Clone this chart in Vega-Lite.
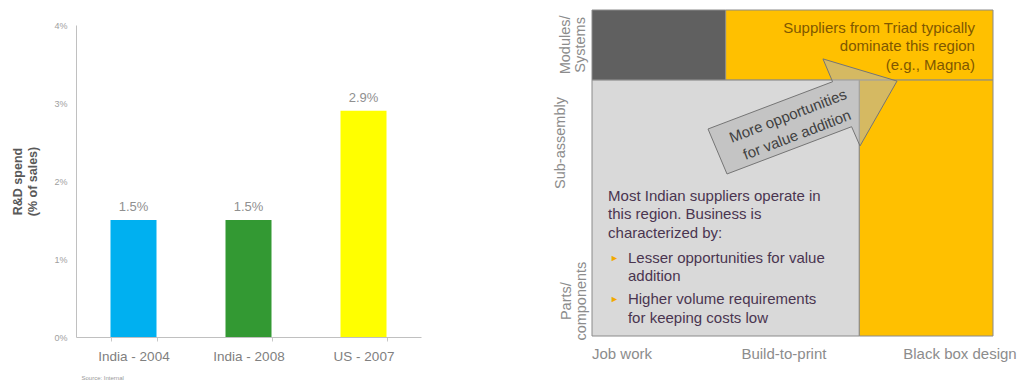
{
  "$schema": "https://vega.github.io/schema/vega-lite/v6.json",
  "background": "white",
  "padding": {"left": 11, "top": 9, "right": 0, "bottom": 0},
  "config": {"view": {"stroke": null}, "font": "Liberation Sans"},
  "spacing": 171,
  "bounds": "flush",
  "resolve": {"scale": {"color": "independent"}},
  "hconcat": [
    {
      "width": 345,
      "height": 327,
      "data": {"values": [
        {"cat": "India - 2004", "v": 0.015},
        {"cat": "India - 2008", "v": 0.015},
        {"cat": "US - 2007", "v": 0.029}
      ]},
      "encoding": {
        "x": {"field": "cat", "type": "nominal", "sort": null,
          "scale": {"paddingInner": 0.6, "paddingOuter": 0.3},
          "axis": {"labelAngle": 0, "tickBand": "extent", "tickSize": 4, "tickColor": "#c8c8c8", "domainColor": "#c0c0c0",
            "labelFontSize": 13.5, "labelColor": "#808080", "labelPadding": 8,
            "title": "Source: Internal", "titleFontSize": 6, "titleFontWeight": "normal", "titleColor": "#999999",
            "titleAnchor": "start", "titleAlign": "left", "titlePadding": 12, "titleX": 5}},
        "y": {"field": "v", "type": "quantitative",
          "scale": {"domain": [0, 0.04], "range": [327, 15], "nice": false},
          "axis": {"values": [0, 0.01, 0.02, 0.03, 0.04], "format": ".0%", "labelFontSize": 9, "labelColor": "#a0a0a0",
            "ticks": false, "grid": false, "domainColor": "#c0c0c0", "labelPadding": 9,
            "title": ["R&D spend", "(% of sales)"], "titleFontSize": 12.5, "titleFontWeight": "bold", "titleColor": "#595959", "titlePadding": 14, "titleLineHeight": 15}}
      },
      "layer": [
        {"mark": {"type": "bar"},
         "encoding": {"color": {"field": "cat", "type": "nominal", "sort": null,
           "scale": {"range": ["#00B0F0", "#339933", "#FFFF00"]}, "legend": null}}},
        {"mark": {"type": "text", "baseline": "bottom", "dy": -6, "fontSize": 13, "color": "#909090"},
         "encoding": {"text": {"field": "v", "type": "quantitative", "format": ".1%"}}}
      ]
    },
    {
      "width": 401,
      "height": 326,
      "layer": [
        {
          "data": {"values": [
            {"zone": "dark", "x0": 0, "x1": 1, "y0": 78.5, "y1": 100},
            {"zone": "triad", "x0": 1, "x1": 3, "y0": 78.5, "y1": 100},
            {"zone": "indian", "x0": 0, "x1": 2, "y0": 0, "y1": 78.5},
            {"zone": "triad", "x0": 2, "x1": 3, "y0": 0, "y1": 78.5}
          ]},
          "mark": {"type": "rect", "stroke": "#8a8a8a", "strokeWidth": 1},
          "encoding": {
            "x": {"field": "x0", "type": "quantitative", "scale": {"domain": [0, 3], "nice": false, "zero": false}, "axis": null},
            "x2": {"field": "x1"},
            "y": {"field": "y0", "type": "quantitative", "scale": {"domain": [0, 100], "nice": false, "zero": false}, "axis": null},
            "y2": {"field": "y1"},
            "color": {"field": "zone", "type": "nominal", "scale": {"domain": ["dark", "triad", "indian"], "range": ["#606060", "#FFC000", "#D9D9D9"]}, "legend": null}
          }
        },
        {
          "data": {"values": [
            {"ord": 1, "px": 0.868, "py": 63.5},
            {"ord": 2, "px": 1.800, "py": 78.0},
            {"ord": 3, "px": 1.728, "py": 85.0},
            {"ord": 4, "px": 2.282, "py": 78.2},
            {"ord": 5, "px": 2.005, "py": 58.3},
            {"ord": 6, "px": 1.942, "py": 64.2},
            {"ord": 7, "px": 1.010, "py": 49.7}
          ]},
          "mark": {"type": "line", "interpolate": "linear-closed", "fill": "#b2b2b2", "fillOpacity": 0.55, "stroke": "#757575", "strokeWidth": 1},
          "encoding": {
            "x": {"field": "px", "type": "quantitative"},
            "y": {"field": "py", "type": "quantitative"},
            "order": {"field": "ord", "type": "quantitative"}
          }
        },
        {
          "data": {"values": [
            {"t": "More opportunities", "x": 1.466, "y": 67.5},
            {"t": "for value addition", "x": 1.534, "y": 61.7}
          ]},
          "mark": {"type": "text", "angle": -21, "align": "center", "baseline": "middle", "fontSize": 15, "color": "#404040"},
          "encoding": {"x": {"field": "x", "type": "quantitative"}, "y": {"field": "y", "type": "quantitative"}, "text": {"field": "t"}}
        },
        {
          "data": {"values": [
            {"t": "Suppliers from Triad typically", "x": 2.865, "y": 94.5},
            {"t": "dominate this region", "x": 2.865, "y": 89.0},
            {"t": "(e.g., Magna)", "x": 2.865, "y": 83.1}
          ]},
          "mark": {"type": "text", "align": "right", "baseline": "middle", "fontSize": 15, "color": "#7f5800"},
          "encoding": {"x": {"field": "x", "type": "quantitative"}, "y": {"field": "y", "type": "quantitative"}, "text": {"field": "t"}}
        },
        {
          "data": {"values": [
            {"t": "Most Indian suppliers operate in", "x": 0.12, "y": 42.9},
            {"t": "this region. Business is", "x": 0.12, "y": 37.4},
            {"t": "characterized by:", "x": 0.12, "y": 31.6},
            {"t": "Lesser opportunities for value", "x": 0.269, "y": 23.9},
            {"t": "addition", "x": 0.269, "y": 18.4},
            {"t": "Higher volume requirements", "x": 0.269, "y": 11.3},
            {"t": "for keeping costs  low", "x": 0.269, "y": 5.5}
          ]},
          "mark": {"type": "text", "align": "left", "baseline": "middle", "fontSize": 15, "color": "#4a3550"},
          "encoding": {"x": {"field": "x", "type": "quantitative"}, "y": {"field": "y", "type": "quantitative"}, "text": {"field": "t"}}
        },
        {
          "data": {"values": [
            {"t": "►", "x": 0.135, "y": 23.9},
            {"t": "►", "x": 0.135, "y": 11.3}
          ]},
          "mark": {"type": "text", "align": "left", "baseline": "middle", "fontSize": 9, "color": "#F2A900"},
          "encoding": {"x": {"field": "x", "type": "quantitative"}, "y": {"field": "y", "type": "quantitative"}, "text": {"field": "t"}}
        },
        {
          "data": {"values": [
            {"t": ["Modules/", "Systems"], "x": -0.195, "y": 89.3},
            {"t": "Sub-assembly", "x": -0.23, "y": 59.2},
            {"t": ["Parts/", "components"], "x": -0.19, "y": 10.7}
          ]},
          "mark": {"type": "text", "angle": 270, "align": "center", "baseline": "middle", "fontSize": 14.5, "lineHeight": 15, "color": "#8c8c8c"},
          "encoding": {"x": {"field": "x", "type": "quantitative"}, "y": {"field": "y", "type": "quantitative"}, "text": {"field": "t"}}
        },
        {
          "data": {"values": [
            {"t": "Job work", "x": 0.0, "y": -5.5}
          ]},
          "mark": {"type": "text", "align": "left", "baseline": "middle", "fontSize": 15, "color": "#8c8c8c"},
          "encoding": {"x": {"field": "x", "type": "quantitative"}, "y": {"field": "y", "type": "quantitative"}, "text": {"field": "t"}}
        },
        {
          "data": {"values": [
            {"t": "Build-to-print", "x": 1.436, "y": -5.5},
            {"t": "Black box design", "x": 2.753, "y": -5.5}
          ]},
          "mark": {"type": "text", "align": "center", "baseline": "middle", "fontSize": 15, "color": "#8c8c8c"},
          "encoding": {"x": {"field": "x", "type": "quantitative"}, "y": {"field": "y", "type": "quantitative"}, "text": {"field": "t"}}
        }
      ]
    }
  ]
}
